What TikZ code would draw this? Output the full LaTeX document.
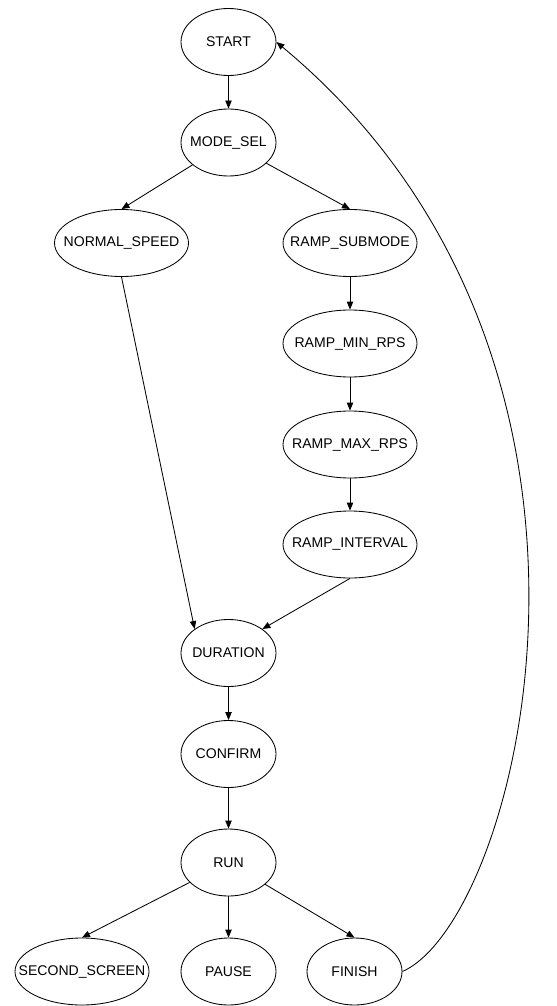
\documentclass[tikz,border=0pt]{standalone}
\usepackage{fontspec}
\setmainfont{Liberation Sans}
\usetikzlibrary{shapes.geometric,arrows.meta}

\begin{document}
\begin{tikzpicture}[
        state/.style={ellipse, draw, line width=0.6pt, minimum width=2.375cm, minimum height=1.675cm, inner xsep=-0.45cm, inner ysep=0pt},
        widestate/.style={state, minimum width=3.35cm},
        edge/.style={-{Triangle[length=2mm,width=1.6mm]}, line width=0.6pt}
    ]
        \useasboundingbox (0,0) rectangle (13.925,-25.15);
        \node[state] (start) at (5.7125,-1.05) {START};
        \node[state] (modesel) at (5.7125,-3.5625) {MODE\_SEL};
        \node[widestate] (normal) at (3.0375,-6.075) {NORMAL\_SPEED};
        \node[widestate] (ramp) at (8.75,-6.075) {RAMP\_SUBMODE};
        \node[widestate] (rampmin) at (8.75,-8.5875) {RAMP\_MIN\_RPS};
        \node[widestate] (rampmax) at (8.75,-11.1125) {RAMP\_MAX\_RPS};
        \node[widestate] (rampint) at (8.75,-13.6125) {RAMP\_INTERVAL};
        \node[state] (duration) at (5.7125,-16.325) {DURATION};
        \node[state] (confirm) at (5.7125,-18.85) {CONFIRM};
        \node[state] (run) at (5.7125,-21.5625) {RUN};
        \node[widestate] (second) at (2.05,-24.2875) {SECOND\_SCREEN};
        \node[state] (pause) at (5.7125,-24.2875) {PAUSE};
        \node[state] (finish) at (8.8625,-24.2875) {FINISH};
        \foreach \from/\to in {start/modesel, ramp/rampmin, rampmin/rampmax, rampmax/rampint, duration/confirm, confirm/run, run/pause} {
            \draw[edge] (\from) -- (\to);
        }
        \draw[edge] (modesel) -- (normal.north);
        \draw[edge] (modesel) -- (ramp.north);
        \draw[edge] (normal.south) -- (duration.north west);
        \draw[edge] (rampint.south) -- (duration.north east);
        \draw[edge] (run) -- (second.north);
        \draw[edge] (run) -- (finish.north);
        \draw[edge] (finish.east) .. controls +(2.95,1.3) and +(9.625,-8.0) .. (start.east);
    \end{tikzpicture}
\end{document}
